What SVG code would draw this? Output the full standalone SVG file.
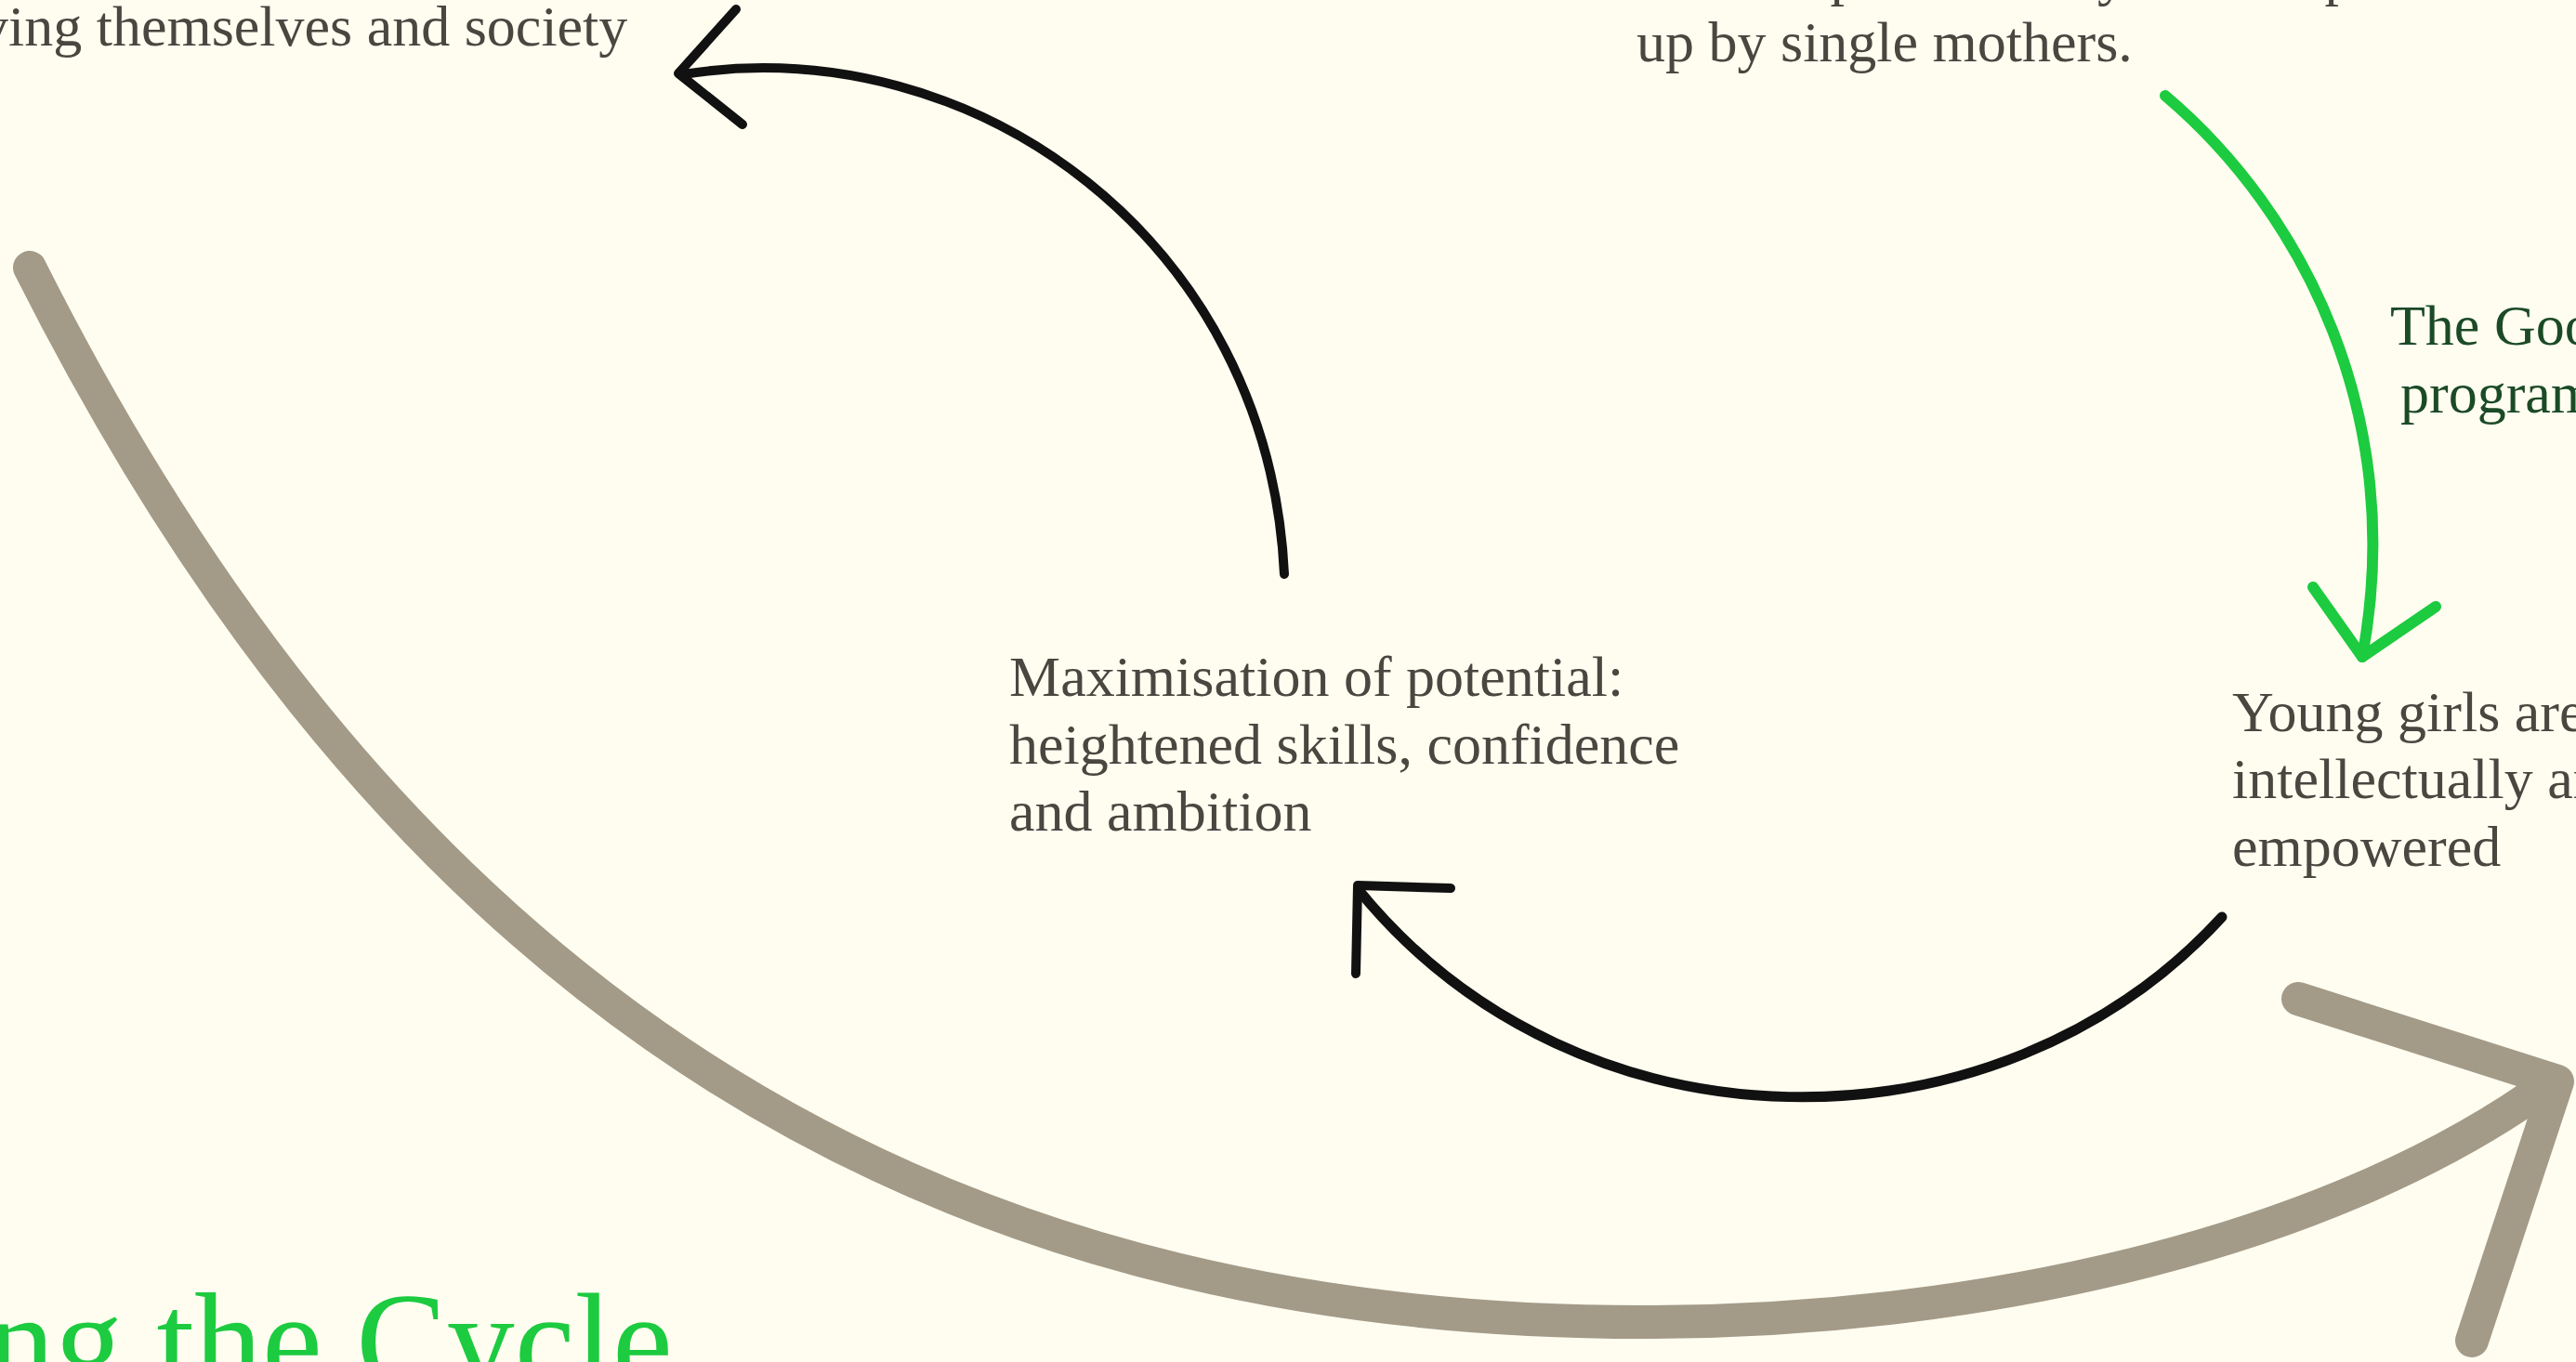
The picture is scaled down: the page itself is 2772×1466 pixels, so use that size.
<svg xmlns="http://www.w3.org/2000/svg" width="2772" height="1466" viewBox="0 0 2772 1466">
  <defs>
    <style>
      .body { font-family: "Liberation Serif", "DejaVu Serif", serif; font-size: 62px; fill: #4a4640; }
      .label { font-family: "Liberation Serif", "DejaVu Serif", serif; font-size: 62px; fill: #1b4a26; }
      .title { font-family: "Liberation Serif", "DejaVu Serif", serif; font-size: 146px; fill: #1dcb40; }
      .blk { fill: none; stroke: #111111; stroke-width: 10; stroke-linecap: round; stroke-linejoin: round; }
      .grn { fill: none; stroke: #1ccb3f; stroke-width: 12; stroke-linecap: round; stroke-linejoin: round; }
      .gry { fill: none; stroke: #a39a88; stroke-width: 36; stroke-linecap: round; stroke-linejoin: round; }
    </style>
  </defs>
  <rect width="2772" height="1466" fill="#fffdf0"/>

  <g id="connectors">
    <g id="big-cycle-arrow">
      <path class="gry" d="M32,288 C380,980 900,1423 1768,1423 C2150,1423 2520,1330 2745,1165"/>
      <polyline class="gry" points="2473,1075 2752,1164 2660,1443"/>
    </g>
    <g id="arrow-programme">
      <path class="grn" d="M2330,103 C2480,230 2590,450 2542,707"/>
      <polyline class="grn" points="2489,632 2542,707 2621,653"/>
    </g>
    <g id="arrow-empowered-to-potential">
      <path class="blk" style="stroke-width:11" d="M2391,987 C2150,1250 1700,1250 1462,958"/>
      <polyline class="blk" points="1561,956 1461,953 1459,1048"/>
    </g>
    <g id="arrow-potential-to-society">
      <path class="blk" d="M1382,618 C1365,260 1050,30 735,80"/>
      <polyline class="blk" points="792,10 730,79 799,134"/>
    </g>
  </g>

  <g id="node-society">
    <text class="body" x="-22" y="49">ving themselves and society</text>
  </g>
  <g id="node-single-mothers">
    <text class="body" x="1761" y="-6">Most impoverished youths in poor communities are brought</text>
    <text class="body" x="1761" y="66">up by single mothers.</text>
  </g>
  <g id="node-programme-label">
    <text class="label" x="2572" y="371">The Good</text>
    <text class="label" x="2583" y="444">programme</text>
  </g>
  <g id="node-empowered">
    <text class="body" x="2402" y="787">Young girls are</text>
    <text class="body" x="2402" y="859">intellectually and</text>
    <text class="body" x="2402" y="932">empowered</text>
  </g>
  <g id="node-potential">
    <text class="body" x="1086" y="749">Maximisation of potential:</text>
    <text class="body" x="1086" y="822">heightened skills, confidence</text>
    <text class="body" x="1086" y="894">and ambition</text>
  </g>
  <g id="node-title">
    <text class="title" x="-14" y="1493">ng the Cycle</text>
  </g>
</svg>
